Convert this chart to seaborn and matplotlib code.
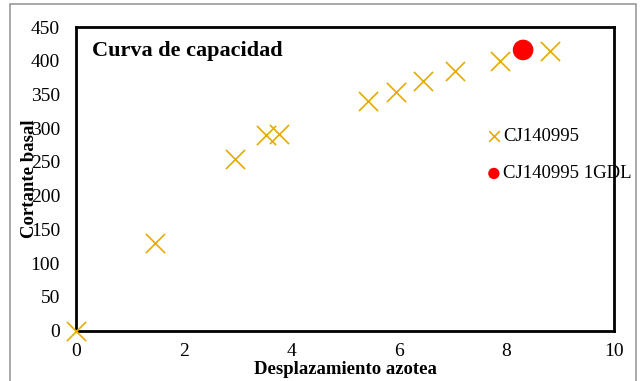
import matplotlib
matplotlib.use("Agg")
import matplotlib.pyplot as plt
import seaborn as sns
import pandas as pd
from matplotlib.patches import Rectangle

# Data
disp_series = [0.0, 1.47, 2.95, 3.54, 3.78, 5.42, 5.95, 6.45, 7.05, 7.89, 8.81]
shear_series = [0, 130, 254, 290, 291, 340, 354, 370, 385, 400, 415]
disp_1gdl = [8.31]
shear_1gdl = [416]
label_series = "CJ140995"
label_1gdl = "CJ140995 1GDL"
x_ticks = [0, 2, 4, 6, 8, 10]
y_ticks = [0, 50, 100, 150, 200, 250, 300, 350, 400, 450]

sns.set_theme(style="white")
plt.rcParams['font.family'] = ['Liberation Serif', 'DejaVu Serif']
plt.rcParams['text.color'] = 'black'

df1 = pd.DataFrame({"x": disp_series, "y": shear_series})
df2 = pd.DataFrame({"x": disp_1gdl, "y": shear_1gdl})

fig = plt.figure(figsize=(6.42, 3.81), dpi=100)
ax = fig.add_axes([76/642, 1 - 330.7/381, (614-76)/642, (330.7-27)/381])

sns.scatterplot(data=df1, x="x", y="y", ax=ax, marker="x", s=190,
                color="#E5AC00", linewidth=1.2, label=label_series, clip_on=False, zorder=3)
sns.scatterplot(data=df2, x="x", y="y", ax=ax, marker="o", s=220,
                color="#FF0000", edgecolor="none", label=label_1gdl, clip_on=False, zorder=3)

ax.set_xlim(0, 10)
ax.set_ylim(0, 450)
ax.set_xticks(x_ticks)
ax.set_yticks(y_ticks)
ax.tick_params(axis="y", labelsize=14, length=0, pad=11.5, labelcolor="black")
ax.tick_params(axis="x", labelsize=14, length=0, pad=9, labelcolor="black")
for sp in ax.spines.values():
    sp.set_color("black")
    sp.set_linewidth(2)
    sp.set_visible(True)

ax.set_xlabel("Desplazamiento azotea", fontsize=13.5, fontweight="bold", color="black")
ax.xaxis.set_label_coords(0.5, -(369 - 330.7) / 303.7, transform=ax.transAxes)
ax.set_ylabel("Cortante basal", fontsize=13.5, fontweight="bold", color="black")
ax.yaxis.set_label_coords((29 - 76) / 538, 0.5)
ax.xaxis.label.set_va("center")
ax.yaxis.label.set_va("center")
ax.text(0.03, 0.955, "Curva de capacidad", transform=ax.transAxes, fontsize=16,
        fontweight="bold", va="top", ha="left", color="black")

leg = ax.legend(loc="upper left", bbox_to_anchor=(477/642, 1 - 120/381),
                bbox_transform=fig.transFigure, frameon=False, fontsize=13.5,
                handletextpad=0.0, handlelength=1.0, labelspacing=1.1,
                markerscale=0.55, borderaxespad=0)
for t in leg.get_texts():
    t.set_color("black")

fig.patches.append(Rectangle((10/642, -0.05), (636-10)/642, 1.05 - 4/381,
                             transform=fig.transFigure, fill=False,
                             edgecolor="#999999", linewidth=1.2))

fig.savefig("out.png", dpi=100)
